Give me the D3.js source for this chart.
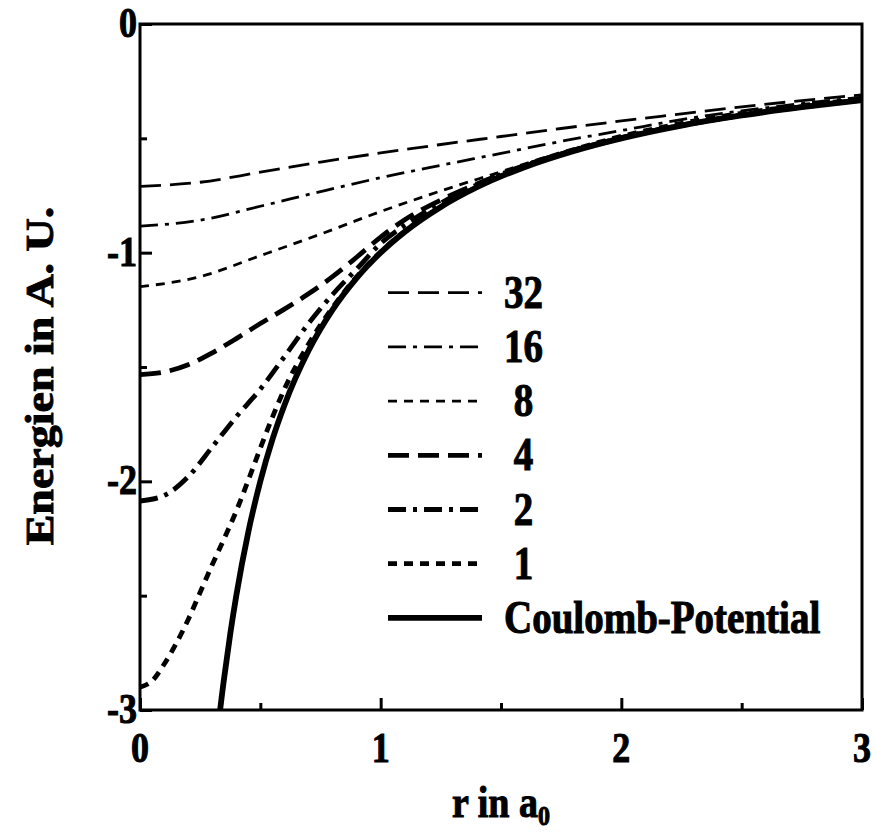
<!DOCTYPE html>
<html>
<head>
<meta charset="utf-8">
<script src="https://cdn.jsdelivr.net/npm/d3@7"></script>
<style>
  body { margin: 0; background: #fff; }
  text { font-family: "Liberation Serif", "Times New Roman", Times, serif; font-weight: 700; fill: #000; stroke: #000; stroke-width: 0.9px; white-space: pre; }
</style>
</head>
<body>
<svg id="chart" width="876" height="832"></svg>
<script>
// Radius r in a0 and energy in atomic units for every curve
const r_32 = [0, 0.25, 0.5, 0.75, 1.0, 1.25, 1.5, 1.75, 2.0, 2.25, 2.5, 2.75, 3.0];
const e_32 = [-0.710, -0.692, -0.648, -0.604, -0.564, -0.527, -0.492, -0.457, -0.424, -0.393, -0.362, -0.335, -0.310];

const r_16 = [0, 0.25, 0.5, 0.75, 1.0, 1.25, 1.5, 1.75, 2.0, 2.25, 2.5, 2.75, 3.0];
const e_16 = [-0.884, -0.858, -0.797, -0.733, -0.672, -0.618, -0.566, -0.513, -0.466, -0.418, -0.380, -0.348, -0.320];

const r_8 = [0, 0.25, 0.5, 0.75, 1.0, 1.25, 1.5, 1.75, 2.0, 2.25, 2.5, 2.75, 3.0];
const e_8 = [-1.149, -1.105, -1.013, -0.919, -0.820, -0.730, -0.646, -0.561, -0.487, -0.430, -0.386, -0.352, -0.326];

const r_4 = [0, 0.1, 0.2, 0.3, 0.4, 0.5, 0.6, 0.7, 0.8, 0.9, 1.0, 1.1, 1.25, 1.4, 1.6, 1.8, 2.0, 2.5, 3.0];
const e_4 = [-1.533, -1.522, -1.490, -1.438, -1.376, -1.310, -1.247, -1.180, -1.105, -1.020, -0.932, -0.856, -0.770, -0.700, -0.618, -0.552, -0.497, -0.398, -0.332];

const r_2 = [0, 0.1, 0.2, 0.3, 0.4, 0.5, 0.6, 0.7, 0.8, 0.9, 1.0, 1.1, 1.25, 1.5, 1.75, 2.0, 2.5, 3.0];
const e_2 = [-2.086, -2.062, -1.980, -1.850, -1.718, -1.597, -1.455, -1.310, -1.183, -1.072, -0.960, -0.880, -0.783, -0.658, -0.568, -0.498, -0.399, -0.333];

const r_1 = [0, 0.05, 0.1, 0.15, 0.2, 0.25, 0.3, 0.35, 0.4, 0.45, 0.5, 0.55, 0.6, 0.7, 0.8, 0.9, 1.0, 1.25, 1.5, 2.0, 2.5, 3.0];
const e_1 = [-2.900, -2.873, -2.800, -2.710, -2.605, -2.485, -2.365, -2.250, -2.130, -1.995, -1.855, -1.720, -1.597, -1.400, -1.240, -1.106, -0.997, -0.799, -0.666, -0.500, -0.400, -0.333];

const r_coulomb = [0.32, 0.333, 0.35, 0.375, 0.4, 0.45, 0.5, 0.55, 0.6, 0.7, 0.8, 0.9, 1.0, 1.1, 1.25, 1.4, 1.6, 1.8, 2.0, 2.25, 2.5, 2.75, 3.0];
const e_coulomb = [-3.125, -3.0, -2.857, -2.667, -2.5, -2.222, -2.0, -1.818, -1.667, -1.429, -1.25, -1.111, -1.0, -0.909, -0.8, -0.714, -0.625, -0.556, -0.5, -0.444, -0.4, -0.364, -0.333];

const legendLabels = ["32", "16", " 8", " 4", " 2", " 1", "Coulomb-Potential"];
const xTickLabels = ["0", "1", "2", "3"];
const xTickValues = [0, 1, 2, 3];
const xMinorValues = [0.5, 1.5, 2.5];
const yTickLabels = ["0", "-1", "-2", "-3"];
const yTickValues = [0, -1, -2, -3];
const yMinorValues = [-0.5, -1.5, -2.5];

// Drawing order: Coulomb first, dashed curves on top
const series = [
  { key: "coulomb", r: r_coulomb, e: e_coulomb },
  { key: "32", r: r_32, e: e_32 },
  { key: "16", r: r_16, e: e_16 },
  { key: "8", r: r_8, e: e_8 },
  { key: "4", r: r_4, e: e_4 },
  { key: "2", r: r_2, e: e_2 },
  { key: "1", r: r_1, e: e_1 }
];

const lineStyle = {
  "32": { w: 2.8, dash: "21,9" },
  "16": { w: 2.8, dash: "18,7,4,7" },
  "8":  { w: 2.8, dash: "9,7" },
  "4":  { w: 4.8, dash: "21,9" },
  "2":  { w: 4.8, dash: "18,7,4,7" },
  "1":  { w: 4.8, dash: "9,7" },
  "coulomb": { w: 5.8, dash: null }
};
const legendKeys = ["32", "16", "8", "4", "2", "1", "coulomb"];

const svg = d3.select("#chart");
const plotL = 140, plotR = 862, plotT = 24, plotB = 710;
const x = d3.scaleLinear().domain([0, 3]).range([plotL, plotR]);
const y = d3.scaleLinear().domain([-3, 0]).range([plotB, plotT]);
const stretch = 1.18;

svg.append("defs").append("clipPath").attr("id", "plotClip")
  .append("rect").attr("x", plotL).attr("y", plotT)
  .attr("width", plotR - plotL).attr("height", plotB - plotT);

// Curves
const line = d3.line().x(d => x(d[0])).y(d => y(d[1])).curve(d3.curveMonotoneX);
const curves = svg.append("g").attr("clip-path", "url(#plotClip)");
series.forEach(s => {
  const pts = s.r.map((r, i) => [r, s.e[i]]);
  const st = lineStyle[s.key];
  curves.append("path")
    .attr("d", line(pts))
    .attr("fill", "none")
    .attr("stroke", "#000")
    .attr("stroke-width", st.w)
    .attr("stroke-dasharray", st.dash)
    .attr("stroke-linejoin", "round");
});

// Frame
svg.append("rect")
  .attr("x", plotL).attr("y", plotT)
  .attr("width", plotR - plotL).attr("height", plotB - plotT)
  .attr("fill", "none").attr("stroke", "#000").attr("stroke-width", 3);

// Inward ticks
function styleAxis(g) {
  g.select(".domain").remove();
  g.selectAll(".tick line").attr("stroke", "#000").attr("stroke-width", 3);
  g.selectAll(".tick text").remove();
}
svg.append("g").attr("transform", `translate(0,${plotB})`)
  .call(d3.axisBottom(x).tickValues(xTickValues).tickSize(-12).tickFormat(""))
  .call(styleAxis);
svg.append("g").attr("transform", `translate(0,${plotB})`)
  .call(d3.axisBottom(x).tickValues(xMinorValues).tickSize(-7).tickFormat(""))
  .call(styleAxis);
svg.append("g").attr("transform", `translate(${plotL},0)`)
  .call(d3.axisLeft(y).tickValues(yTickValues).tickSize(-12).tickFormat(""))
  .call(styleAxis);
svg.append("g").attr("transform", `translate(${plotL},0)`)
  .call(d3.axisLeft(y).tickValues(yMinorValues).tickSize(-7).tickFormat(""))
  .call(styleAxis);

// Tick labels
xTickValues.forEach((v, i) => {
  svg.append("text")
    .attr("transform", `translate(${x(v)},762) scale(1,${stretch})`)
    .attr("text-anchor", "middle")
    .attr("font-size", 36)
    .attr("font-weight", 700)
    .text(xTickLabels[i]);
});
yTickValues.forEach((v, i) => {
  svg.append("text")
    .attr("transform", `translate(137,${y(v) + 13}) scale(1,${stretch})`)
    .attr("text-anchor", "end")
    .attr("font-size", 36)
    .attr("font-weight", 700)
    .text(yTickLabels[i]);
});

// Axis titles
const xTitle = svg.append("text")
  .attr("transform", `translate(501,817) scale(1,${stretch})`)
  .attr("text-anchor", "middle")
  .attr("font-size", 38)
  .attr("font-weight", 700);
xTitle.append("tspan").text("r in a");
xTitle.append("tspan").attr("font-size", 24).attr("dy", 7).text("0");

svg.append("text")
  .attr("transform", `translate(53,376) scale(1,${stretch}) rotate(-90)`)
  .attr("text-anchor", "middle")
  .attr("font-size", 39)
  .attr("font-weight", 700)
  .text("Energien in A. U.");

// Legend
const legend = svg.append("g");
legendKeys.forEach((k, i) => {
  const ly = 292.7 + i * 54.2;
  const st = lineStyle[k];
  legend.append("line")
    .attr("x1", 388).attr("x2", 482)
    .attr("y1", ly).attr("y2", ly)
    .attr("stroke", "#000")
    .attr("stroke-width", st.w)
    .attr("stroke-dasharray", st.dash);
  legend.append("text")
    .attr("transform", `translate(504,${ly + 15}) scale(1,${stretch})`)
    .attr("font-size", 39)
    .attr("font-weight", 700)
    .text(legendLabels[i]);
});
</script>
</body>
</html>
